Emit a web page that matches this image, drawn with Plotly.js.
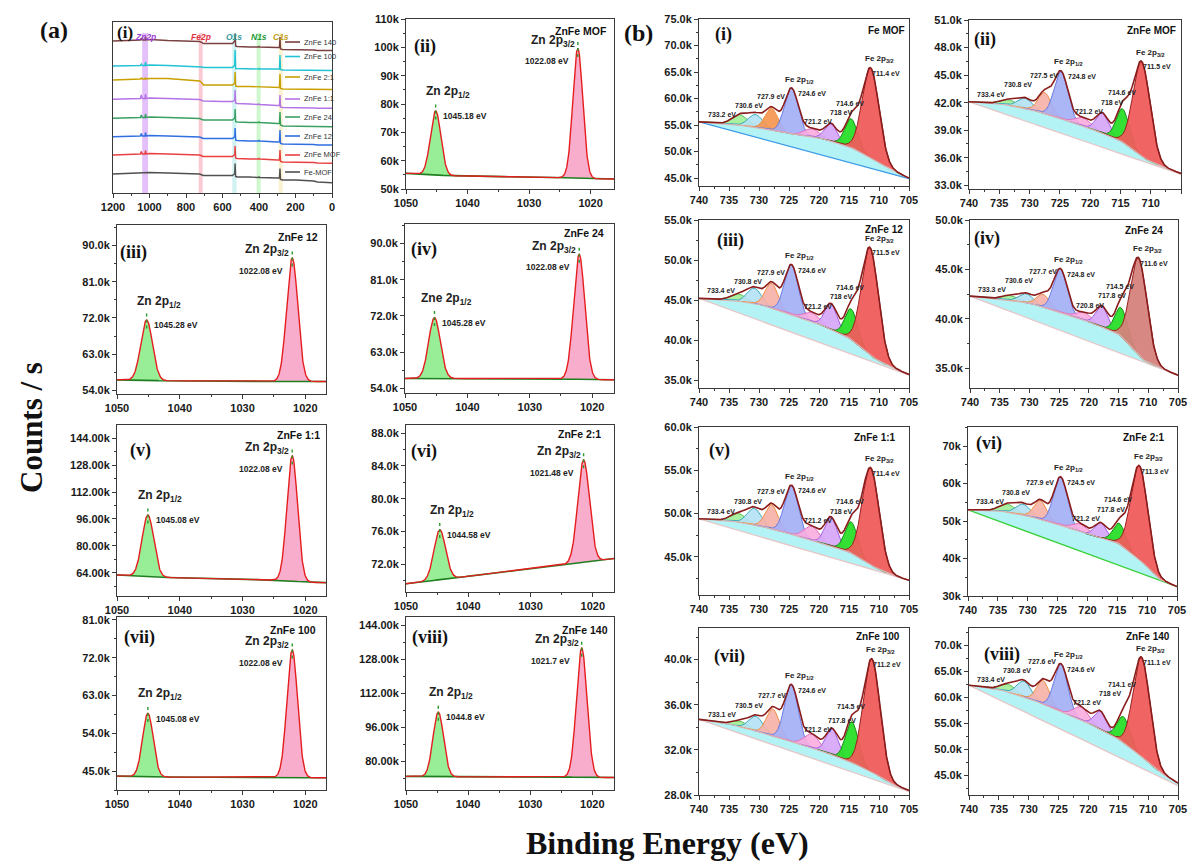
<!DOCTYPE html>
<html><head><meta charset="utf-8">
<script src="https://cdn.plot.ly/plotly-3.0.1.min.js"></script>
<style>body{margin:0;background:#fff}#chart{width:1189px;height:861px}</style>
</head><body><div id="chart"></div>
<script>
const W = 1189, H = 861;

// ================= DATA =================
// (a)(i) survey spectra (stacked, display units)
const surveyEnergy = [1200,1100,1050,1045,1040,1025,1022,1018,1000,900,800,725,712,705,600,545,533,531,528,520,450,402,399,396,300,288,285,282,270,200,100,80,0];
const surveyNames = ['ZnFe 140','ZnFe 100','ZnFe 2:1','ZnFe 1:1','ZnFe 24','ZnFe 12','ZnFe MOF','Fe-MOF'];
const surveyZnFe140 = [152,152.5,153,155,153,153,156,153,153.5,152.5,152,151.5,150.5,149.5,149.5,149.5,152,159.5,147,146.5,146,146,147,146,145.5,145.5,156,144,143.5,143.5,143,142.5,142.5];
const surveyZnFe100 = [127,127,127.5,129,127.5,127.5,131,127.5,128,127.5,127,126.5,126,125.5,125.5,125.5,128,143,124.5,124.5,124.5,124,125,124,124,124,138,123.5,123,123,123,122.5,122.5];
const surveyZnFe21  = [113,113.5,114,115,114,114,115.5,114,114.5,114.5,113,112,110,108,108,108,110,121,107,106.5,106.5,106,106.5,106,105.5,105.5,119,104.5,104,104,104,103.5,103.5];
const surveyZnFe11  = [93.7,94,94.5,98,94.5,94.5,99,94.5,95,94.5,94,93.5,92.5,92,91.5,91.5,93,103,90,89.5,89,88.5,89.5,88.5,87.5,87.5,98,86,85.5,85.5,85,84.7,84.7];
const surveyZnFe24  = [74.7,75,75.5,78,75.5,75.5,79,75.5,76,75.5,75,74.5,73.5,73,73,73,75,84,71.5,71,70.5,70.5,71.5,70.5,69.5,69.5,81,68,67,67,66.5,66.3,66.3];
const surveyZnFe12  = [56.3,56.5,57,59.5,57,57,60.5,57,57.5,57,56.5,56,55,54.5,54.5,54.5,56.5,65,53,52.5,52,52,53,52,51,51,63,49.5,49,49,48.5,48,48];
const surveyZnFeMOF = [38,38.5,39,41.5,39,39,42.5,39,39.5,39,38.5,38,37,36.5,36.5,36.5,38.5,47,35,34.5,34,34,35,34,33,33,43,31.5,31,31,30.5,30,29.7];
const surveyFeMOF   = [19,19.5,20,20,20,20,20.5,20,20.5,20,19.5,19,18,17.5,17.5,17.5,19.5,29.5,16.5,16,16,15.5,16.5,15.5,15,15,24.5,13.5,13,13,12,11,10.3];
const surveyBandNames = ['Zn2p','Fe2p','O1s','N1s','C1s'];
const surveyBandHi = [1040,730,546,413,292];
const surveyBandLo = [1008,709,523,391,270];

// Zn 2p panels (ii)-(viii), intensities in k counts/s
const znNames  = ['ZnFe MOF','ZnFe 12','ZnFe 24','ZnFe 1:1','ZnFe 2:1','ZnFe 100','ZnFe 140'];
const znRoman  = ['(ii)','(iii)','(iv)','(v)','(vi)','(vii)','(viii)'];
const zn1Title = ['Zn 2p<sub>1/2</sub>','Zn 2p<sub>1/2</sub>','Zne 2p<sub>1/2</sub>','Zn 2p<sub>1/2</sub>','Zn 2p<sub>1/2</sub>','Zn 2p<sub>1/2</sub>','Zn 2p<sub>1/2</sub>'];
const zn1Center = [1045.18,1045.28,1045.28,1045.08,1044.58,1045.08,1044.8];
const zn1Label  = ['1045.18 eV','1045.28 eV','1045.28 eV','1045.08 eV','1044.58 eV','1045.08 eV','1044.8 eV'];
const zn1Height = [22.6,15.0,15.1,36.7,6.1,15.1,30.4];
const zn1Fwhm   = [2.0,2.2,2.2,2.2,2.2,2.0,2.0];
const zn3Center = [1022.08,1022.08,1022.08,1022.08,1021.48,1022.08,1021.7];
const zn3Label  = ['1022.08 eV','1022.08 eV','1022.08 eV','1022.08 eV','1021.48 eV','1022.08 eV','1021.7 eV'];
const zn3Height = [45.8,30.7,31.0,74.6,12.5,30.4,60.8];
const zn3Fwhm   = [1.9,2.1,2.1,2.0,2.2,2.0,2.0];
const znBgEnergy = [1050,1043,1025,1019,1016];
const znBg = [
  [55.5,54.7,54.0,53.6,53.5],
  [56.6,56.4,56.2,56.2,56.2],
  [56.5,56.5,56.4,56.2,56.2],
  [62.6,61.2,59.6,58.2,58.0],
  [69.6,70.25,71.9,72.45,72.75],
  [43.8,43.6,43.5,43.4,43.4],
  [72.8,72.6,72.5,72.3,72.3]
];

// Fe 2p panels (i)-(viii)
const feNames = ['Fe MOF','ZnFe MOF','ZnFe 12','ZnFe 24','ZnFe 1:1','ZnFe 2:1','ZnFe 100','ZnFe 140'];
const feRoman = ['(i)','(ii)','(iii)','(iv)','(v)','(vi)','(vii)','(viii)'];
const feCenters = [
  [733.2,730.6,727.9,724.6,721.2,718,714.6,711.4],
  [733.4,730.8,727.5,724.8,721.2,718,714.6,711.5],
  [733.4,730.8,727.9,724.6,721.2,718,714.6,711.5],
  [733.3,730.6,727.7,724.8,720.8,717.8,714.5,711.6],
  [733.4,730.8,727.9,724.6,721.2,718,714.6,711.4],
  [733.4,730.8,727.9,724.5,721.2,717.8,714.6,711.3],
  [733.1,730.5,727.7,724.6,721.2,717.8,714.5,711.2],
  [733.4,730.8,727.6,724.6,721.2,718,714.1,711.1]
];
const feHeights = [
  [2.0,2.4,4.1,8.6,1.5,3.3,5.4,16.9],
  [0.6,1.1,2.3,5.1,0.9,2.2,3.6,10.3],
  [0.9,1.9,3.1,6.2,1.1,3.2,3.8,13.4],
  [0.5,0.9,1.3,4.4,0.8,2.1,2.9,9.8],
  [1.0,1.9,2.8,5.6,1.6,3.3,3.6,11.2],
  [2.2,2.9,5.0,12.8,2.1,4.0,5.5,25.0],
  [0.5,1.3,2.4,5.0,1.2,2.3,3.6,10.0],
  [1.5,3.0,4.5,9.0,2.5,3.5,5.0,19.0]
];
const feFwhm = [3.0,2.8,2.5,2.7,3.0,2.4,2.5,3.3];
const feBgEnergy = [740,735,730,725,720,715,711,708,705];
const feBg = [
  [55.6,55.2,54.5,53.4,52.6,51.0,48.6,46.6,45.0],
  [42.1,41.9,41.3,40.3,39.2,37.9,35.9,35.0,34.3],
  [45.2,45.0,44.5,43.3,42.0,40.3,37.8,36.6,35.7],
  [42.3,42.0,41.6,40.7,39.7,38.5,35.9,35.0,34.3],
  [49.4,49.2,48.6,47.7,46.7,45.6,43.9,42.95,42.3],
  [53.0,52.8,51.4,49.2,46.5,44.3,39.4,34.5,32.5],
  [34.7,34.3,33.6,32.8,32.0,31.0,30.0,29.0,28.4],
  [62.3,61.5,59.8,57.5,55.0,52.0,48.5,45.5,43.5]
];
const feLinearEnds = [[55.6,44.9],[42.1,34.2],[45.2,35.6],[42.3,34.3],[49.4,42.3],[53.0,32.5],[34.7,28.3],[62.3,43.0]];

// ================= STYLE / LAYOUT =================
const FS = 'Liberation Sans, Arial, Helvetica, sans-serif';
const FT = 'Liberation Serif, Times New Roman, serif';
const surveyColors = ['#7a4040','#22c3d3','#c9a000','#b474e6','#3aa062','#2f6fe0','#ea4040','#505050'];
const surveyBandColors = ['rgba(205,140,245,0.55)','rgba(245,150,165,0.5)','rgba(170,232,232,0.55)','rgba(165,240,165,0.55)','rgba(245,232,175,0.6)'];
const surveyBandText = ['#9b3fd0','#e03040','#3a9a9a','#1f9a3a','#c0a020'];
const surveyLegendY = [42,56.5,77,99,117,136,155,172];

const znFrames = [[406,614,19,189],[117,326,225,394],[405,614,224,393],[117,326,425,596],[406,614,425,592],[117,326,617,790],[406,614,617,790]];
const znXEnd = [1016.2,1016.7,1016.5,1016.7,1016.6,1016.7,1016.5];
const znYRange = [[50,110],[53.1,95.1],[52.9,94.8],[50.1,151.9],[68.6,89.0],[40.5,81.7],[66.4,147.8]];
const znYTicks = [[50,10,'.0f'],[54,9,'.1f'],[54,9,'.1f'],[64,16,'.2f'],[72,4,'.1f'],[45,9,'.1f'],[80,16,'.2f']];
const znRomanPos = [[0.027,0.84],[0.005,0.84],[0.02,0.85],[0.053,0.85],[0.016,0.84],[0.024,0.88],[0.02,0.88]];
const znNamePos = [[0.976,0.93],[0.97,0.927],[0.96,0.945],[0.98,0.94],[0.947,0.946],[0.96,0.925],[0.98,0.925]];

const feFrames = [[699,909,19,186],[969,1181,20,189],[699,909,220,388],[970,1178,220,388],[699,909,427,595],[968,1177,427,596],[699,909,628,795],[969,1178,628,795]];
const feYRange = [[43.5,75],[32.6,51.0],[34.0,55.0],[33.0,50.0],[40.6,60.0],[30,75.1],[28.0,42.8],[41.2,73.3]];
const feYTicks = [[45,5,'.1f'],[33,3,'.1f'],[35,5,'.1f'],[35,5,'.1f'],[45,5,'.1f'],[30,10,'.0f'],[28,4,'.1f'],[45,5,'.1f']];
const feRomanPos = [[0.067,0.91],[0.016,0.886],[0.075,0.88],[0.01,0.89],[0.038,0.86],[0.027,0.9],[0.06,0.83],[0.06,0.84]];
const feNamePos = [[0.989,0.93],[0.987,0.937],[0.98,0.946],[0.936,0.936],[0.948,0.936],[0.952,0.94],[0.967,0.95],[0.971,0.95]];
const feFill = ['rgba(160,238,150,0.9)','rgba(180,226,246,0.9)','rgba(246,176,166,0.9)','rgba(164,176,246,0.92)','rgba(248,172,222,0.9)','rgba(214,166,246,0.92)','rgba(40,222,40,0.95)','rgba(240,92,92,0.95)'];
const feEdge = ['#5cbf5c','#3aaab8','#ee9040','#6a7ae0','#e070c0','#a060e0','#148a14','#9a2020'];
const feLineColor = ['#3a9ae8','#e6c6c6','#e6c6c6','#e6c6c6','#e6c6c6','#3ad03a','#e6c6c6','#e6c6c6'];

const layout = {width:W, height:H, margin:{l:0,r:0,t:0,b:0}, paper_bgcolor:'#fff', plot_bgcolor:'rgba(0,0,0,0)', showlegend:false, annotations:[], shapes:[]};
const traces = [];
let nAx = 0;

function dom(f){ return {x:[f[0]/W, f[1]/W], y:[1-f[3]/H, 1-f[2]/H]}; }
function interpDesc(xs, ys, x){
  if (x >= xs[0]) return ys[0];
  for (let k=0;k<xs.length-1;k++){
    if (x<=xs[k] && x>=xs[k+1]){ const t=(xs[k]-x)/(xs[k]-xs[k+1]); return ys[k]+t*(ys[k+1]-ys[k]); }
  }
  return ys[ys.length-1];
}
function gauss(x,c,h,w){ return h*Math.exp(-4*Math.LN2*((x-c)/w)*((x-c)/w)); }
function sampleGrid(a,b,step){ const out=[]; const n=Math.round((a-b)/step); for(let k=0;k<=n;k++) out.push(+(a-k*step).toFixed(3)); return out; }

function makePanel(frame, xRange, xTick0, xDtick, yRange, yTick){
  nAx++;
  const s = nAx===1 ? '' : String(nAx);
  const d = dom(frame);
  const base = {showline:true, mirror:true, linecolor:'#3a3a3a', linewidth:1, ticks:'outside', ticklen:4, tickwidth:1, tickcolor:'#3a3a3a',
    showgrid:false, zeroline:false, fixedrange:true, tickfont:{family:FS, size:11, color:'#1a1a1a', weight:'bold'}};
  layout['xaxis'+s] = Object.assign({}, base, {domain:d.x, anchor:'y'+s, range:xRange, tickmode:'linear', tick0:xTick0, dtick:xDtick,
    minor:{ticks:'outside', ticklen:2, tickcolor:'#3a3a3a', dtick:xDtick/2}});
  const ya = Object.assign({}, base, {domain:d.y, anchor:'x'+s, range:yRange});
  if (yTick) Object.assign(ya, {tickmode:'linear', tick0:yTick[0], dtick:yTick[1], tickformat:yTick[2], ticksuffix:'k',
    minor:{ticks:'outside', ticklen:2, tickcolor:'#3a3a3a', dtick:yTick[1]/2}});
  else Object.assign(ya, {ticks:'', showticklabels:false});
  layout['yaxis'+s] = ya;
  return {x:'x'+s, y:'y'+s};
}
function addLine(ax, xs, ys, color, width, dash){
  traces.push({type:'scatter', mode:'lines', x:xs, y:ys, xaxis:ax.x, yaxis:ax.y, line:{color:color, width:width, dash:dash||'solid'}, hoverinfo:'skip'});
}
function addFill(ax, xs, upper, lower, color){
  const rx = xs.slice().reverse();
  traces.push({type:'scatter', mode:'lines', x:xs.concat(rx), y:xs.map(upper).concat(rx.map(lower)), xaxis:ax.x, yaxis:ax.y,
    fill:'toself', fillcolor:color, line:{width:0, color:color}, hoverinfo:'skip'});
}
function annData(ax, x, y, text, size, extra){
  layout.annotations.push(Object.assign({xref:ax.x, yref:ax.y, x:x, y:y, text:text, showarrow:false,
    font:{family:FS, size:size, color:'#222', weight:'bold'}}, extra||{}));
}
function annDom(ax, fx, fy, text, font, xanchor){
  layout.annotations.push({xref:ax.x+' domain', yref:ax.y+' domain', x:fx, y:fy, text:text, showarrow:false, font:font, xanchor:xanchor, yanchor:'middle'});
}

// ---------- (a)(i) survey ----------
(function(){
  const ax = makePanel([113,332,22,193], [1200,0], 0, 200, [0,171], null);
  for (let b=0;b<surveyBandNames.length;b++){
    layout.shapes.push({type:'rect', xref:ax.x, yref:ax.y+' domain', x0:surveyBandHi[b], x1:surveyBandLo[b], y0:0, y1:0.935,
      fillcolor:surveyBandColors[b], line:{width:0}, layer:'below'});
    annData(ax, (surveyBandHi[b]+surveyBandLo[b])/2, 0, '<i>'+surveyBandNames[b]+'</i>', 8.5,
      {yref:ax.y+' domain', y:0.955, font:{family:FS, size:8.5, color:surveyBandText[b], weight:'bold'}});
  }
  const series = [surveyZnFe140, surveyZnFe100, surveyZnFe21, surveyZnFe11, surveyZnFe24, surveyZnFe12, surveyZnFeMOF, surveyFeMOF];
  series.forEach((ys,k)=> addLine(ax, surveyEnergy, ys, surveyColors[k], 1.4));
  surveyNames.forEach((nm,k)=>{
    const yp = 1 - surveyLegendY[k]/H;
    layout.shapes.push({type:'line', xref:'paper', yref:'paper', x0:285/W, x1:300/W, y0:yp, y1:yp, line:{color:surveyColors[k], width:1.6}});
    layout.annotations.push({xref:'paper', yref:'paper', x:302/W, y:yp, text:nm, showarrow:false, xanchor:'left', yanchor:'middle',
      font:{family:FS, size:7.5, color:'#333'}});
  });
  annDom(ax, 0.01, 0.94, '(i)', {family:FT, size:17, color:'#111', weight:'bold'}, 'left');
})();

// ---------- Zn 2p panels ----------
function znPanel(i){
  const yr = znYRange[i], R = yr[1]-yr[0];
  const ax = makePanel(znFrames[i], [1050, znXEnd[i]], 1020, 10, yr, znYTicks[i]);
  const xs = sampleGrid(1050, znXEnd[i], 0.05);
  const bg = x => interpDesc(znBgEnergy, znBg[i], x);
  const g1 = x => gauss(x, zn1Center[i], zn1Height[i], zn1Fwhm[i]);
  const g3 = x => gauss(x, zn3Center[i], zn3Height[i], zn3Fwhm[i]);
  const w1 = xs.filter(x => Math.abs(x-zn1Center[i]) <= 2.4*zn1Fwhm[i]);
  const w3 = xs.filter(x => Math.abs(x-zn3Center[i]) <= 2.4*zn3Fwhm[i]);
  addFill(ax, w1, x=>bg(x)+g1(x), bg, 'rgba(140,236,140,0.9)');
  addFill(ax, w3, x=>bg(x)+g3(x), bg, 'rgba(248,164,200,0.9)');
  addLine(ax, xs, xs.map(bg), '#1f7f1f', 1.6);
  addLine(ax, xs, xs.map(x=>bg(x)+g1(x)+g3(x)), '#e41e1e', 1.4);
  const top1 = bg(zn1Center[i]) + zn1Height[i];
  const top3 = bg(zn3Center[i]) + zn3Height[i];
  addLine(ax, [zn1Center[i], zn1Center[i]], [top1-0.05*R, top1+0.05*R], '#2a9a2a', 1.4, 'dot');
  addLine(ax, [zn3Center[i], zn3Center[i]], [top3-0.05*R, top3+0.04*R], '#2a9a2a', 1.4, 'dot');
  annData(ax, zn1Center[i]-2.0, top1+0.11*R, zn1Title[i], 12);
  annData(ax, zn1Center[i]-0.9, top1-0.03*R, zn1Label[i], 8.5, {xanchor:'left'});
  annData(ax, zn3Center[i]+4.0, top3+0.045*R, 'Zn 2p<sub>3/2</sub>', 12);
  annData(ax, zn3Center[i]+5.0, top3-0.075*R, zn3Label[i], 8.5);
  annDom(ax, znRomanPos[i][0], znRomanPos[i][1], znRoman[i], {family:FT, size:18, color:'#111', weight:'bold'}, 'left');
  annDom(ax, znNamePos[i][0], znNamePos[i][1], znNames[i], {family:FS, size:10.5, color:'#111', weight:'bold'}, 'right');
}

// ---------- Fe 2p panels ----------
function fePanel(i){
  const yr = feYRange[i], R = yr[1]-yr[0];
  const ax = makePanel(feFrames[i], [740,705], 705, 5, yr, feYTicks[i]);
  const xs = sampleGrid(740, 705, 0.05);
  const bg = x => interpDesc(feBgEnergy, feBg[i], x);
  const lin = x => feLinearEnds[i][0] + (740-x)/35*(feLinearEnds[i][1]-feLinearEnds[i][0]);
  const C = feCenters[i], Hh = feHeights[i];
  const G = (k,x) => gauss(x, C[k], Hh[k], feFwhm[k]);
  const env = x => { let s = bg(x); for (let k=0;k<8;k++) s += G(k,x); return s; };
  addFill(ax, xs, bg, lin, 'rgba(176,242,244,0.95)');
  addLine(ax, xs, xs.map(lin), feLineColor[i], 1.3);
  for (let k=0;k<8;k++){
    const wx = xs.filter(x => Math.abs(x-C[k]) <= 2.3*feFwhm[k]);
    let fill = feFill[k];
    if (k===2 && i===0) fill = 'rgba(244,150,80,0.92)';
    if (k===7 && i===3) fill = 'rgba(214,130,124,0.95)';
    addFill(ax, wx, x=>bg(x)+G(k,x), bg, fill);
    addLine(ax, wx, wx.map(x=>bg(x)+G(k,x)), feEdge[k], 1);
  }
  addLine(ax, xs, xs.map(bg), '#d9b4b4', 1.2);
  addLine(ax, xs, xs.map(env), '#8a1c1c', 1.6);
  // labels (staircase placement above the envelope)
  const maxEnv = (c) => { let m=-1e9; for (let x=c-1; x<=c+1; x+=0.05) m=Math.max(m, env(x)); return m; };
  const top3 = maxEnv(C[3]), top7 = maxEnv(C[7]);
  const fs = 7;
  const lab = k => C[k] + ' eV';
  const x0 = C[0]+3.0, x1 = C[1]+1.1, x2 = C[2]+0.1;
  const y0 = env(x0)+0.05*R;
  const y1 = Math.max(env(x1)+0.045*R, y0+0.055*R);
  const y2 = Math.max(env(x2)+0.045*R, y1+0.055*R);
  annData(ax, x0, y0, lab(0), fs);
  annData(ax, x1, y1, lab(1), fs);
  annData(ax, x2, y2, lab(2), fs);
  annData(ax, C[3]-3.4, top3-0.035*R, lab(3), fs);
  annData(ax, C[3]-1.3, top3+0.05*R, 'Fe 2p<sub>1/2</sub>', 8);
  const x4 = C[4]-1.0, x5 = C[5]-1.7, x6 = C[6]+0.2;
  const y4 = env(x4)+0.05*R;
  const y5 = Math.max(env(x5)+0.045*R, y4+0.055*R);
  const y6 = Math.max(env(x6)+0.06*R, y5+0.055*R);
  annData(ax, x4, y4, lab(4), fs);
  annData(ax, x5, y5, lab(5), fs);
  annData(ax, x6, y6, lab(6), fs);
  annData(ax, C[7]-2.6, top7-0.035*R, lab(7), fs);
  annData(ax, C[7]-1.5, top7+0.05*R, 'Fe 2p<sub>3/2</sub>', 8);
  annDom(ax, feRomanPos[i][0], feRomanPos[i][1], feRoman[i], {family:FT, size:18, color:'#111', weight:'bold'}, 'left');
  annDom(ax, feNamePos[i][0], feNamePos[i][1], feNames[i], {family:FS, size:10, color:'#111', weight:'bold'}, 'right');
}

znPanel(0);
fePanel(0); fePanel(1);
znPanel(1); znPanel(2);
fePanel(2); fePanel(3);
znPanel(3); znPanel(4);
fePanel(4); fePanel(5);
znPanel(5); znPanel(6);
fePanel(6); fePanel(7);

// big labels
const big = (x,y,text,size,angle) => layout.annotations.push({xref:'paper', yref:'paper', x:x/W, y:1-y/H, text:text, showarrow:false,
  textangle:angle||0, xanchor:'center', yanchor:'middle', font:{family:FT, size:size, color:'#111', weight:'bold'}});
big(54, 30, '(a)', 24);
big(638, 33, '(b)', 24);
big(31, 428, 'Counts / s', 31, -90);
big(667, 843, 'Binding Energy (eV)', 32);

Plotly.newPlot('chart', traces, layout, {displayModeBar:false, staticPlot:true});
</script>
</body></html>
